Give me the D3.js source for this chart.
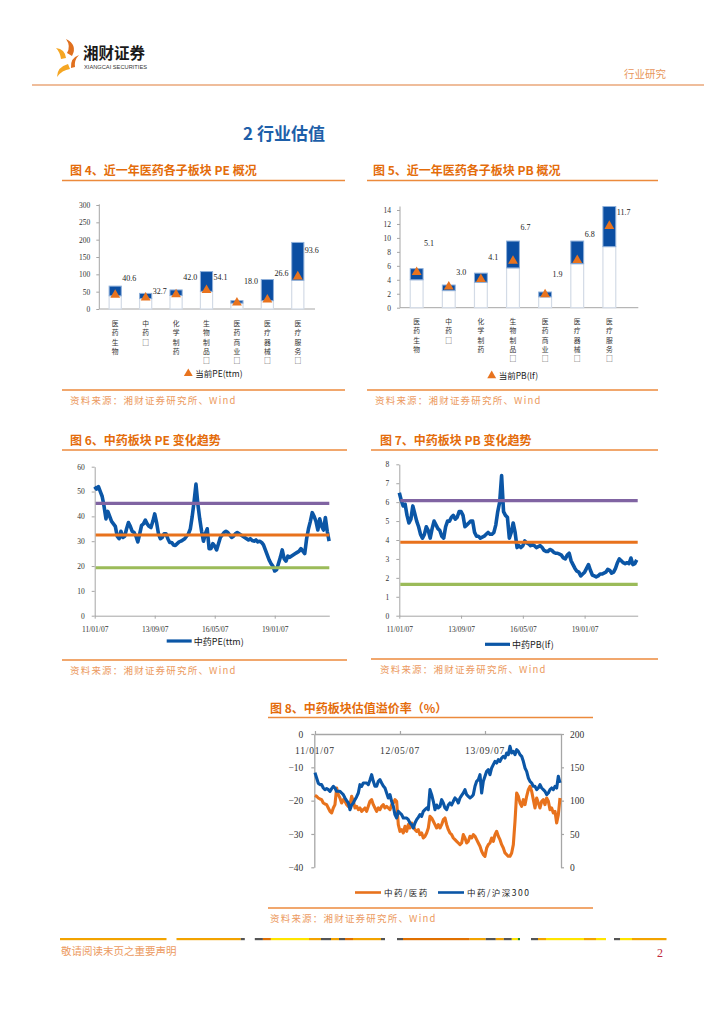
<!DOCTYPE html>
<html><head><meta charset="utf-8"><title>行业估值</title>
<script src="https://cdn.jsdelivr.net/npm/d3@7/dist/d3.min.js"></script>
<style>html,body{margin:0;padding:0;background:#fff;}svg{display:block;}</style>
</head><body>
<svg id="page" width="724" height="1024"></svg>
<script>
// ---------------- DATA ----------------
const sectors = ["医药生物","中药□","化学制药","生物制品□","医药商业□","医疗器械□","医疗服务□"];
const peMin = [38, 30, 39, 51, 17, 24, 83];
const peMax = [66, 45, 55, 108, 24, 85, 192];
const peCur = [40.6, 32.7, 42.0, 54.1, 18.0, 26.6, 93.6];
const peLabelAt = [90, 52, 93, 93, 81, 103, 170];
const peTicks = [0, 50, 100, 150, 200, 250, 300];

const pbMin = [4.0, 2.45, 3.65, 5.7, 1.55, 6.3, 8.75];
const pbMax = [5.6, 3.25, 4.95, 9.55, 2.25, 9.55, 14.5];
const pbCur = [5.1, 3.0, 4.1, 6.7, 1.9, 6.8, 11.7];
const pbLabelAt = [9.2, 5.1, 7.2, 11.5, 4.9, 10.5, 13.75];
const pbTicks = [0, 2, 4, 6, 8, 10, 12, 14];

const dateLabels = ["11/01/07", "13/09/07", "16/05/07", "19/01/07"];
const dateTickIdx = [0, 32, 64, 96];

// 中药PE(ttm), monthly from 2011/01
const tcmPE = [52,51,52,50,48,44,39,42,40,38,
  37,36,32,31,34,31.5,32,35,37.5,36,
  34,33.5,32,29.7,33,36.4,37,38.5,37,36,
  35.5,38,41,37.5,33,31,31.5,33,33,31,
  29.5,29.5,28.5,28.3,29,29.7,30,30.5,31,32,
  33,35,40,46,53,45,39,34,30,33,
  35,27,27,29,28,26.5,29,31.5,32.5,33.5,
  34,33.5,32.5,31.5,32,33,33.5,33,32.5,32,
  31.5,31,30.5,31,30.3,30,30.5,29.7,30,29.5,
  28.5,26.5,24.5,22.5,21,20,18,18.5,21,23.5,
  26.5,23,22,24,23.5,24,24.5,25,25.5,26,
  27,26,25,31,35,38,41.5,40,38,34.5,
  39,36,34.5,39.5,34,30];
const tcmPELevels = [45.2, 32.5, 19.3];

// 中药PB(lf), monthly from 2011/01
const tcmPB = [6.5,6.1,5.8,5.9,5.3,4.9,5.1,5.8,5.4,5.0,
  4.7,4.3,4.1,4.3,4.7,4.5,4.1,4.6,5.0,4.8,
  4.6,4.5,4.2,4.1,4.7,5.0,5.0,5.2,5.3,5.1,
  5.2,5.5,5.5,5.3,4.7,4.8,4.9,5.0,5.0,4.4,
  4.2,4.2,4.1,4.15,4.2,4.3,4.4,4.3,4.3,4.4,
  4.8,5.5,6.0,7.4,5.5,5.3,5.2,4.1,4.4,4.9,
  4.4,3.6,3.7,3.6,3.7,3.95,3.85,3.8,3.7,3.75,
  3.7,3.6,3.65,3.7,3.6,3.45,3.4,3.4,3.5,3.45,
  3.35,3.3,3.3,3.25,3.2,3.05,3.0,3.2,3.3,2.9,
  2.7,2.5,2.35,2.3,2.1,2.2,2.3,2.5,2.7,2.4,
  2.15,2.1,2.05,2.1,2.2,2.2,2.25,2.3,2.45,2.4,
  2.25,2.3,2.5,2.8,3.0,2.9,2.8,2.75,2.8,2.75,
  3.05,2.7,2.75,2.95];
const tcmPBLevels = [6.08, 3.88, 1.65];

const premDateLabels = ["11/01/07", "12/05/07", "13/09/07"];
const premTickIdx = [0, 51, 102];
// 中药/医药 (left axis, %)
const premVsPharma = [-18.4,-18.7,-19.2,-19.5,-19.7,-20.7,-21,-21.2,-22.2,-23.2,
  -23.7,-22.2,-21.2,-16.2,-18.2,-19.2,-20.7,-19.7,-20.2,-21.2,
  -21.7,-21.2,-18.7,-20.2,-22.2,-21.7,-22.7,-22.2,-23.2,-22.7,
  -22.2,-23.2,-21.7,-20.2,-19.7,-21.2,-22.2,-23.2,-22.2,-22.7,
  -21.7,-21.2,-22.2,-21.7,-22.2,-22.7,-21.2,-20.7,-19.7,-20.2,
  -27.2,-29.2,-28.7,-29.7,-27.7,-29.2,-27.2,-28.2,-26.7,-27.7,
  -28.7,-29.2,-28.7,-30.2,-29.7,-31.2,-30.7,-29.7,-28.2,-24.7,
  -25.2,-26.2,-27.2,-28.2,-27.2,-28.2,-27.2,-25.7,-25.2,-27.2,
  -28.7,-29.7,-30.2,-31.2,-31.7,-32.2,-32.7,-33.2,-32.7,-30.2,
  -31.2,-32.7,-32.2,-30.7,-31.2,-30.2,-30.7,-31.7,-32.7,-33.7,
  -35.2,-36.2,-36.7,-34.2,-33.2,-32.7,-31.2,-32.2,-30.2,-29.2,
  -30.7,-31.7,-33.2,-34.2,-35.7,-36.2,-36.7,-36.7,-35.7,-33.2,
  -26.2,-17.7,-18.7,-20.7,-21.7,-19.7,-21.2,-18.7,-16.7,-15.7,
  -17.2,-19.7,-22.2,-19.2,-20.7,-22.2,-20.2,-19.7,-21.2,-19.2,
  -20.2,-22.7,-22.2,-23.7,-23.2,-26.7,-24.2,-19.2];
// 中药/沪深300 (right axis)
const premVsHS300 = [142,134,126,124,124,119,116.5,118,116.5,114,
  118,121.5,119,114,114,114,111.5,109,104,100,
  96.5,86.5,93.5,96.5,101.5,106,111.5,124,121.5,126.5,
  126.5,126.5,124,131,139,129,121.5,121.5,129,131.5,
  126.5,122,119,111.5,104,109,99,91.5,79,74,
  84,81.5,79,74,74,74,71.5,66.5,64,59,
  66.5,71.5,75,79,76.5,84,86.5,89,86.5,116.5,
  109,99,86.5,93.5,89,91.5,101.5,96.5,89,86.5,
  93.5,96.5,93.5,99,104,101.5,96.5,104,108,111.5,
  116.5,109,106.5,104,106,109,121.5,129,131.5,139,
  111.5,129,136.5,144,146.5,139,149,154,159,156.5,
  161.5,159,164,166.5,164,171.5,169,181.5,171.5,174,
  169,176.5,174,169,166.5,159,149,144,134,129,
  126.5,121.5,121.5,116.5,119,124,119,116.5,114,109,
  111.5,116.5,119,116.5,121.5,119,136.5,126.5];
const premLeftTicks = [0, -10, -20, -30, -40];
const premRightTicks = [200, 150, 100, 50, 0];

// ---------------- STYLE ----------------
const CJK = "'Noto Sans CJK SC','Noto Sans',sans-serif";
const SERIF = "'Liberation Serif','DejaVu Serif',serif";
const TITLE_OR = "#e46c0a";
const SRC_OR = "#ec9a60";
const BLUE = "#0b56a6";
const PURPLE = "#8064a2", ORANGE = "#e8721c", GREEN = "#9bbb59";
const AXIS = "#a6a6a6";

const svg = d3.select("#page");

// ---------------- HEADER ----------------
const logo = svg.append("g");
logo.append("path").attr("d","M66,39 Q78,45 72,56 L67,53 Q71,46 66,39 Z").attr("fill","#e0701e");
logo.append("path").attr("d","M56,48 Q65,49 66,58 L61,59 Q60,52 56,48 Z").attr("fill","#f5a623");
logo.append("path").attr("d","M79,55 Q70,58 71,68 L75,67 Q74,60 79,55 Z").attr("fill","#e0701e");
logo.append("path").attr("d","M57,77 Q57,67 68,64 L70,69 Q62,70 57,77 Z").attr("fill","#f5a623");
svg.append("text").attr("x",83).attr("y",59).attr("font-family",CJK).attr("font-weight","bold")
  .attr("font-size",15.5).attr("fill","#1a1a1a").text("湘财证券");
svg.append("text").attr("x",84).attr("y",68.5).attr("font-family","'Liberation Sans',sans-serif")
  .attr("font-size",6).attr("fill","#333").attr("textLength",63).attr("lengthAdjust","spacingAndGlyphs")
  .text("XIANGCAI SECURITIES");
svg.append("text").attr("x",624).attr("y",78).attr("font-family",CJK).attr("font-size",10.5)
  .attr("fill","#e8955a").text("行业研究");
svg.append("line").attr("x1",32).attr("x2",704).attr("y1",85).attr("y2",85)
  .attr("stroke","#eaa77a").attr("stroke-width",1.6);

svg.append("text").attr("x",243).attr("y",140).attr("font-family",CJK).attr("font-weight","bold")
  .attr("font-size",17).attr("fill","#1d5fa9").text("2 行业估值");

// ---------------- FRAMES ----------------
function frame(o){
  svg.append("text").attr("x",o.tx).attr("y",o.ty).attr("font-family",CJK).attr("font-weight","bold")
    .attr("font-size",12).attr("fill",TITLE_OR).text(o.title);
  svg.append("line").attr("x1",o.lx1).attr("x2",o.lx2).attr("y1",o.ly).attr("y2",o.ly)
    .attr("stroke","#ec8a3c").attr("stroke-width",1.5);
  svg.append("line").attr("x1",o.lx1).attr("x2",o.lx2).attr("y1",o.sy).attr("y2",o.sy)
    .attr("stroke","#ec8a3c").attr("stroke-width",1.5);
  svg.append("text").attr("x",o.sx).attr("y",o.sy+14).attr("font-family",CJK)
    .attr("font-size",9.5).attr("letter-spacing",1.2).attr("fill",SRC_OR).text("资料来源：湘财证券研究所、Wind");
}
frame({title:"图 4、近一年医药各子板块 PE 概况",tx:70,ty:175,lx1:62,lx2:345,ly:180.5,sy:390,sx:70});
frame({title:"图 5、近一年医药各子板块 PB 概况",tx:373,ty:175,lx1:367,lx2:658,ly:180.5,sy:390,sx:375});
frame({title:"图 6、中药板块 PE 变化趋势",tx:70,ty:444.5,lx1:62,lx2:347,ly:450,sy:660,sx:70});
frame({title:"图 7、中药板块 PB 变化趋势",tx:380,ty:444.5,lx1:371,lx2:658,ly:450,sy:659,sx:380});
frame({title:"图 8、中药板块估值溢价率（%）",tx:270,ty:712.5,lx1:268,lx2:593,ly:717.5,sy:908,sx:270});

// ---------------- BAR CHARTS ----------------
function barChart(o){
  const g = svg.append("g");
  const x = d3.scaleBand().domain(sectors).range([o.bx0,o.bx1]).paddingInner(0.6).paddingOuter(0.3);
  const y = d3.scaleLinear().domain([0,o.yMax]).range([o.y0,o.yTopAtMax]);
  const ax = g.append("g").attr("transform",`translate(${o.ax},0)`)
    .call(d3.axisLeft(y).tickValues(o.ticks).tickSize(3).tickSizeOuter(0).tickPadding(6));
  ax.select(".domain").remove();
  ax.selectAll(".tick line").attr("stroke",AXIS);
  ax.selectAll(".tick text").attr("font-family",SERIF).attr("font-size",7.5).attr("fill","#333");
  g.append("line").attr("x1",o.ax).attr("x2",o.ax).attr("y1",y(0)).attr("y2",y(o.axisTop)).attr("stroke",AXIS);
  g.append("line").attr("x1",o.ax).attr("x2",o.axEnd).attr("y1",y(0)).attr("y2",y(0)).attr("stroke",AXIS);
  const bw = x.bandwidth();
  g.selectAll(".wb").data(sectors).join("rect")
    .attr("x",d=>x(d)).attr("width",bw)
    .attr("y",(d,i)=>y(o.min[i])).attr("height",(d,i)=>y(0)-y(o.min[i]))
    .attr("fill","#fff").attr("stroke","#d3dbe6").attr("stroke-width",1.2);
  g.selectAll(".bb").data(sectors).join("rect")
    .attr("x",d=>x(d)).attr("width",bw)
    .attr("y",(d,i)=>y(o.max[i])).attr("height",(d,i)=>y(o.min[i])-y(o.max[i]))
    .attr("fill","#0b4ea2").attr("stroke","#8fb0da").attr("stroke-width",1);
  const tri = d3.symbol(d3.symbolTriangle,42);
  g.selectAll(".tri").data(sectors).join("path").attr("d",tri)
    .attr("transform",(d,i)=>`translate(${x(d)+bw/2},${y(o.cur[i])})`).attr("fill","#e8731e");
  g.selectAll(".lab").data(sectors).join("text")
    .attr("x",d=>x(d)+bw+1).attr("y",(d,i)=>y(o.labelAt[i])+3)
    .attr("text-anchor","start").attr("font-family",SERIF).attr("font-size",8).attr("fill","#222")
    .text((d,i)=>d3.format(".1f")(o.cur[i]));
  sectors.forEach(s=>{
    Array.from(s).forEach((ch,j)=>{
      g.append("text").attr("x",x(s)+bw/2).attr("y",o.catY+j*9.3).attr("text-anchor","middle")
        .attr("font-family",CJK).attr("font-size",6.8).attr("fill","#333").text(ch);
    });
  });
  g.append("path").attr("d",d3.symbol(d3.symbolTriangle,34)).attr("transform",`translate(${o.lgX},${o.lgY})`).attr("fill","#e8731e");
  g.append("text").attr("x",o.lgX+7).attr("y",o.lgY+3.5).attr("font-family",CJK).attr("font-size",8.5)
    .attr("fill","#222").text(o.lgText);
}
barChart({bx0:100,bx1:313,ax:99.3,axEnd:315,y0:309,yMax:300,yTopAtMax:205,axisTop:302,ticks:peTicks,
  min:peMin,max:peMax,cur:peCur,labelAt:peLabelAt,catY:326,lgX:188.3,lgY:373.5,lgText:"当前PE(ttm)"});
barChart({bx0:400.6,bx1:625.4,ax:400,axEnd:638.3,y0:307.7,yMax:14,yTopAtMax:210,axisTop:14.5,ticks:pbTicks,
  min:pbMin,max:pbMax,cur:pbCur,labelAt:pbLabelAt,catY:324,lgX:491.7,lgY:375.7,lgText:"当前PB(lf)"});

// ---------------- LINE CHARTS ----------------
function lineChart(o){
  const g = svg.append("g");
  const x = d3.scaleLinear().domain([0,o.xEnd]).range([o.x0,o.x1]);
  const y = d3.scaleLinear().domain([0,o.yMax]).range([o.y0,o.yTop]);
  const ay = g.append("g").attr("transform",`translate(${o.x0},0)`)
    .call(d3.axisLeft(y).tickValues(o.yTicks).tickSize(3).tickSizeOuter(0).tickPadding(7));
  ay.select(".domain").attr("stroke",AXIS);
  ay.selectAll(".tick line").attr("stroke",AXIS);
  ay.selectAll(".tick text").attr("font-family",SERIF).attr("font-size",7.5).attr("fill","#333");
  const axx = g.append("g").attr("transform",`translate(0,${o.y0})`)
    .call(d3.axisBottom(x).tickValues(dateTickIdx).tickFormat((d,i)=>dateLabels[i]).tickSize(3).tickSizeOuter(0).tickPadding(7.5));
  axx.select(".domain").attr("stroke",AXIS);
  axx.selectAll(".tick line").attr("stroke",AXIS);
  axx.selectAll(".tick text").attr("font-family",SERIF).attr("font-size",7.5).attr("fill","#333");
  const line = d3.line().x((d,i)=>x(i)).y(d=>y(d));
  g.append("path").datum(o.data).attr("d",line).attr("fill","none").attr("stroke",BLUE)
    .attr("stroke-width",3.6).attr("stroke-linejoin","round");
  [PURPLE,ORANGE,GREEN].forEach((c,i)=>{
    g.append("line").attr("x1",o.x0+1).attr("x2",o.x1).attr("y1",y(o.levels[i])).attr("y2",y(o.levels[i]))
      .attr("stroke",c).attr("stroke-width",3.2);
  });
  g.append("line").attr("x1",o.lgX).attr("x2",o.lgX+25).attr("y1",o.lgY).attr("y2",o.lgY)
    .attr("stroke",BLUE).attr("stroke-width",3.2);
  g.append("text").attr("x",o.lgX+27).attr("y",o.lgY+3.5).attr("font-family",CJK).attr("font-size",9)
    .attr("fill","#222").text(o.lgText);
}
lineChart({x0:94.7,x1:329.3,xEnd:125.1,y0:615.7,yTop:466.7,yMax:60,yTicks:[0,10,20,30,40,50,60],
  data:tcmPE,levels:tcmPELevels,lgX:166.7,lgY:641,lgText:"中药PE(ttm)"});
lineChart({x0:399.3,x1:637.7,xEnd:123.5,y0:615.7,yTop:464.3,yMax:8,yTicks:[0,1,2,3,4,5,6,7,8],
  data:tcmPB,levels:tcmPBLevels,lgX:485,lgY:644.3,lgText:"中药PB(lf)"});

// ---------------- DUAL AXIS CHART ----------------
(function(){
  const g = svg.append("g");
  const xL = 314.3, xR = 561, yT = 734, yB = 867.3;
  const x = d3.scaleLinear().domain([-0.4,147.6]).range([xL,xR]);
  const yl = d3.scaleLinear().domain([0,-40]).range([yT,yB]);
  const yr = d3.scaleLinear().domain([200,0]).range([yT,yB]);
  const al = g.append("g").attr("transform",`translate(${xL},0)`)
    .call(d3.axisLeft(yl).tickValues(premLeftTicks).tickSize(3).tickSizeOuter(0).tickPadding(8));
  const ar = g.append("g").attr("transform",`translate(${xR},0)`)
    .call(d3.axisRight(yr).tickValues(premRightTicks).tickSize(3).tickSizeOuter(0).tickPadding(6));
  const at = g.append("g").attr("transform",`translate(0,${yT})`)
    .call(d3.axisTop(x).tickValues(premTickIdx).tickSize(3).tickSizeOuter(0).tickFormat(""));
  [al,ar,at].forEach(a=>{
    a.select(".domain").attr("stroke",AXIS).attr("stroke-width",1.3);
    a.selectAll(".tick line").attr("stroke",AXIS).attr("stroke-width",1.2);
    a.selectAll(".tick text").attr("font-family",SERIF).attr("font-size",9.5).attr("fill","#333");
  });
  g.selectAll(".dl").data(premTickIdx).join("text").attr("x",d=>x(d)).attr("y",753.5)
    .attr("text-anchor","middle").attr("font-family",SERIF).attr("font-size",9.5).attr("letter-spacing",0.8)
    .attr("fill","#333").text((d,i)=>premDateLabels[i]);
  const lo = d3.line().x((d,i)=>x(i)).y(d=>yl(d));
  const lb = d3.line().x((d,i)=>x(i)).y(d=>yr(d));
  g.append("path").datum(premVsPharma).attr("d",lo).attr("fill","none").attr("stroke",ORANGE)
    .attr("stroke-width",3.1).attr("stroke-linejoin","round");
  g.append("path").datum(premVsHS300).attr("d",lb).attr("fill","none").attr("stroke",BLUE)
    .attr("stroke-width",3.1).attr("stroke-linejoin","round");
  // legend
  g.append("line").attr("x1",355).attr("x2",381).attr("y1",892.5).attr("y2",892.5).attr("stroke",ORANGE).attr("stroke-width",2.6);
  g.append("text").attr("x",384).attr("y",895.5).attr("font-family",CJK).attr("font-size",8.5)
    .attr("letter-spacing",1.5).attr("fill","#222").text("中药/医药");
  g.append("line").attr("x1",438).attr("x2",464).attr("y1",892.5).attr("y2",892.5).attr("stroke",BLUE).attr("stroke-width",2.6);
  g.append("text").attr("x",467).attr("y",895.5).attr("font-family",CJK).attr("font-size",8.5)
    .attr("letter-spacing",1.5).attr("fill","#222").text("中药/沪深300");
})();

// ---------------- FOOTER ----------------
const footerSegs = [
  [60,166.5,"#f2a300"],[176.5,240.8,"#f2a300"],[240.8,244.8,"#555"],
  [254.8,262.9,"#555"],[262.9,270.9,"#e07000"],[270.9,309,"#ffe500"],[309,321,"#f2a300"],[321,331,"#555"],
  [331,339,"#f2a300"],[339,345,"#555"],[345,353,"#e07000"],[353,381,"#f2a300"],[381,385,"#555"],
  [397,403,"#555"],[403,469.7,"#e07000"],[469.7,485.7,"#f2a300"],[485.7,495.8,"#555"],[495.8,503.8,"#f2a300"],
  [503.8,511.8,"#555"],[511.8,517.9,"#ffe500"],[517.9,520,"#2a8a2a"],
  [531,538,"#555"],[538,546,"#f2a300"],[546,584,"#ffe500"],[584,596,"#f2a300"],[596,606,"#ffe500"],
  [614,620,"#555"],[620,632,"#ffe500"],[632,666.5,"#f2a300"]
];
svg.append("g").selectAll("rect").data(footerSegs).join("rect")
  .attr("x",d=>d[0]).attr("width",d=>d[1]-d[0]).attr("y",938).attr("height",2.2).attr("fill",d=>d[2]);
svg.append("text").attr("x",61).attr("y",955).attr("font-family",CJK).attr("font-size",10.5)
  .attr("fill","#ec9a60").text("敬请阅读末页之重要声明");
svg.append("text").attr("x",657).attr("y",957).attr("font-family",SERIF).attr("font-size",12)
  .attr("fill","#c0283c").text("2");
</script>
</body></html>
